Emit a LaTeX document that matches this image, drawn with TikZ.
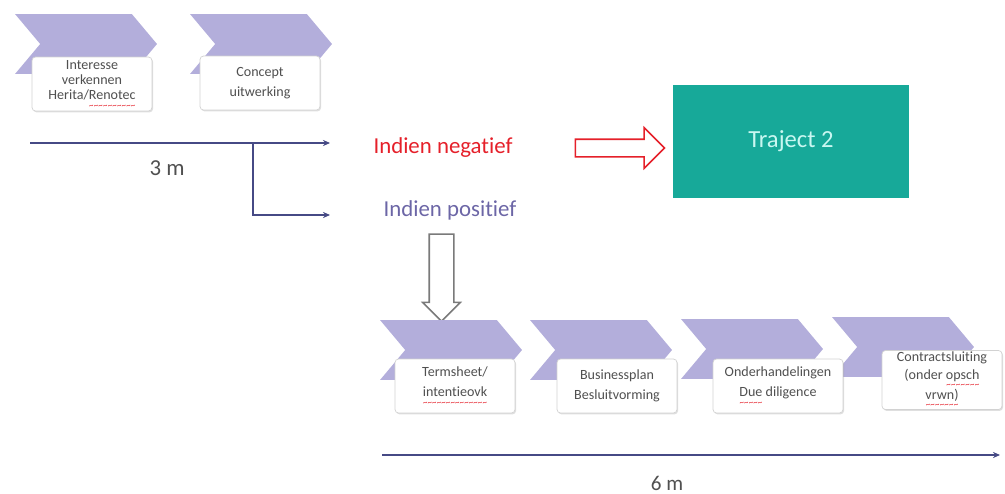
\documentclass[tikz,border=0pt]{standalone}
\usepackage{fontspec}
\setmainfont[Ligatures=NoCommon]{Carlito}
\usetikzlibrary{arrows.meta,shapes,shadows,positioning}
\definecolor{chevfill}{HTML}{B3AEDB}
\definecolor{linecol}{HTML}{464A85}
\definecolor{negred}{HTML}{E5202A}
\definecolor{poscol}{HTML}{6C66A6}
\definecolor{teal}{HTML}{17A999}
\definecolor{trajtext}{HTML}{C9F7F1}
\definecolor{boxtext}{HTML}{505050}
\definecolor{boxline}{HTML}{D2D2D2}
\definecolor{arrowgray}{HTML}{7A7A7A}
\newcommand{\spell}[1]{\setbox0\hbox{#1}\rlap{\raisebox{-4.6pt}{\textcolor{negred}{\hbox to \wd0{\fontsize{5}{5}\selectfont\xleaders\hbox{\textasciitilde}\hfil}}}}#1}

\tikzset{
  chev/.style={shape=signal, signal from=west, signal to=east, signal pointer angle=100,
    fill=chevfill, minimum width=2.84cm, minimum height=1.2cm, inner sep=0pt},
  stepbox/.style={draw=boxline, fill=white, rounded corners=2pt, align=center, text=boxtext,
    minimum width=2.4cm, minimum height=1.08cm, inner sep=1pt,
    font=\fontsize{8}{11.5}\selectfont,
    drop shadow={shadow xshift=0.6pt, shadow yshift=-0.8pt, opacity=0.25}},
  tline/.style={draw=linecol, line width=0.6pt, -{Stealth[length=4pt,width=3.5pt]}},
  hollow/.style={single arrow, fill=white, line width=0.9pt, inner xsep=0pt, single arrow tip angle=90}
}

\begin{document}
\begin{tikzpicture}[x=0.02cm,y=-0.02cm]
  \useasboundingbox (0,0) rectangle (1005,494);
  \node[chev] (c1) at (86,44) {};
  \node[chev] (c2) at (261,44) {};
  \node[stepbox, font=\fontsize{8}{8.8}\selectfont] (s1) at (92,84) {Interesse\\verkennen\\Herita/\spell{Renotec}};
  \node[stepbox] (s2) at (260,83) {Concept\\uitwerking};

  \coordinate (t1a) at (30,143);
  \coordinate (t1b) at (330,143);
  \coordinate (split) at (253,143);
  \coordinate (t2b) at (330,215);
  \draw[tline] (t1a) -- (t1b);
  \draw[tline] (split) |- (t2b);
  \node[text=boxtext, font=\fontsize{13}{15}\selectfont] (drie) at (167,168) {3 m};

  \node[text=negred, font=\fontsize{13}{15}\selectfont] (neg) at (443,148) {Indien negatief};
  \node[text=poscol, font=\fontsize{13}{15}\selectfont] (pos) at (450,210) {Indien positief};
  \node[hollow, draw=negred, minimum height=1.78cm, inner ysep=0.16cm, single arrow head extend=0.23cm] (negarrow) at (615.5,148) {};
  \node[fill=teal, text=trajtext, minimum width=4.72cm, minimum height=2.26cm, font=\fontsize{14}{16}\selectfont] (traj) at (791,141.5) {Traject 2};
  \node[hollow, draw=arrowgray, rotate=-90, minimum height=1.74cm, inner ysep=0.23cm, single arrow head extend=0.13cm] (posarrow) at (441.5,271.5) {};

  \node[chev] (c3) at (451,350) {};
  \node[chev] (c4) at (601,350) {};
  \node[chev] (c5) at (752,349) {};
  \node[chev] (c6) at (903,347) {};
  \node[stepbox] (s3) at (455,386) {Termsheet/\\\spell{intentieovk}};
  \node[stepbox] (s4) at (617,386) {Businessplan\\Besluitvorming};
  \node[stepbox, minimum width=2.6cm] (s5) at (778,386) {Onderhandelingen\\\spell{Due} diligence};
  \node[stepbox, font=\fontsize{8}{10}\selectfont] (s6) at (942,380) {Contractsluiting\\(onder \spell{opsch}\\\spell{vrwn)}};

  \coordinate (t3a) at (382,455);
  \coordinate (t3b) at (1000,455);
  \draw[tline] (t3a) -- (t3b);
  \node[text=boxtext, font=\fontsize{12}{14}\selectfont] (zes) at (667,483) {6 m};
\end{tikzpicture}
\end{document}
